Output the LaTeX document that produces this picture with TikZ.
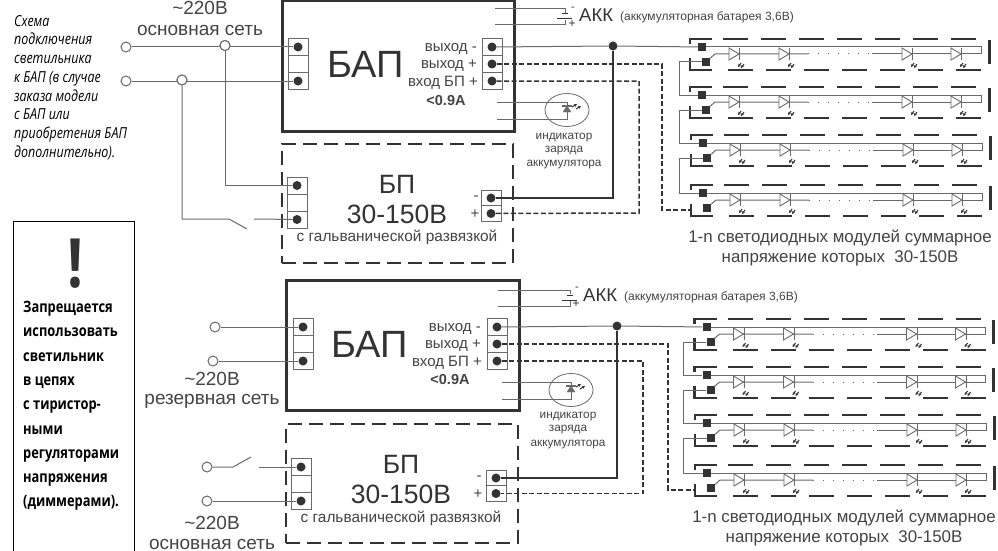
\documentclass[tikz,border=0pt]{standalone}
\usepackage{fontspec}
\usetikzlibrary{arrows.meta,shapes.geometric,calc}
\setmainfont{Liberation Sans}
\newfontfamily\condfont[FakeStretch=0.82]{Open Sans}
\definecolor{ink}{HTML}{333333}
\definecolor{wirec}{HTML}{6A6A6A}
\definecolor{txt}{HTML}{444444}
\newcommand\fsz[1]{\fontsize{#1}{#1}\selectfont}
\tikzset{
  wire/.style={draw=wirec,line width=1pt},
  hotwire/.style={draw=ink,line width=1.5pt},
  dashwire/.style={draw=ink,line width=1.5pt,dash pattern=on 5pt off 2.5pt},
  term/.style={circle,fill=ink,draw=none,minimum size=9pt,inner sep=0pt},
  cellbox/.style={rectangle,draw=wirec,line width=.8pt,minimum width=20pt,inner sep=0pt,fill=white},
  openend/.style={circle,draw=wirec,fill=white,line width=1pt,minimum size=10pt,inner sep=0pt},
  junct/.style={circle,fill=ink,minimum size=9pt,inner sep=0pt},
  mainbox/.style={rectangle,draw=ink,line width=3pt,inner sep=0pt},
  psbox/.style={rectangle,draw=ink,line width=1.5pt,dash pattern=on 14pt off 7pt,inner sep=0pt},
  lab/.style={text=txt,inner sep=0pt,align=center},
  sqpad/.style={rectangle,fill=ink,minimum size=8pt,inner sep=0pt},
  heavy/.style={draw=ink,line width=2.5pt},
  bar/.style={draw=ink,line width=3pt},
  ledbody/.style={draw=wirec,fill=white,line width=.9pt,line join=miter},
  ledglow/.style={draw=ink,line width=1pt,-{Stealth[length=3pt,width=3pt]}},
}
% one module row: #1 name, (#2,#3) position of its first pad
\newcommand\modrow[3]{%
  \begin{scope}[shift={(#2,#3)}]
    \draw[heavy] (-12,-3) -- (-12,-8) -- (10,-8);
    \draw[heavy] (-12,11) -- (-12,23) -- (10,23);
    \foreach \i in {0,...,6}{
      \draw[heavy] ({21+38*\i},-8) -- ++(25,0);
      \draw[heavy] ({26+38*\i},23) -- ++(25,0);
    }
    \draw[bar] (287,-7) -- (287,17);
    \node[sqpad] (#1a) at (0,0) {};
    \node[sqpad] (#1b) at (4,15) {};
    \coordinate (#1e) at (279,0);
    \coordinate (#1f) at (279,7);
    \coordinate (#1g) at (13,7);
    \coordinate (#1h) at (106,7);
    \coordinate (#1i) at (170,7);
    \draw[wire] (#1a) -- (#1e) -- (#1f) -- (#1i);
    \draw[wire] (#1b) -- (#1g) -- (#1h);
    \draw[wire,line width=1pt,dash pattern=on 1pt off 9pt] (#1h) -- (#1i);
    \foreach \lx in {33,83,206,255}{
      \begin{scope}[shift={(\lx,7)}]
        \draw[ledbody] (-6,-6) -- (4,0) -- (-6,6) -- cycle;
        \draw[wirec,line width=1pt] (4.5,-6) -- (4.5,6);
        \draw[ledglow] (6,9) -- (3,13);
        \draw[ledglow] (9,10) -- (6,14);
      \end{scope}
    }
  \end{scope}}
% charge indicator: #1 name, (#2,#3) lamp position, #4 wire start x
\newcommand\lamp[4]{%
  \node[ellipse,draw=wirec,line width=.8pt,minimum width=44pt,minimum height=33pt,inner sep=0pt] (#1) at (#2,#3) {};
  \coordinate (#1s) at (#4,#3-8);
  \coordinate (#1t) at (#4,#3+9);
  \draw[wire] (#1s) -- ($(#1s)+(#2-#4,0)$) -- ++(0,6);
  \draw[wire] (#1t) -- ($(#1t)+(#2-#4,0)$) -- ++(0,-7);
  \draw[fill=wirec,draw=wirec] (#2-4,#3+2) -- (#2+4,#3+2) -- (#2,#3-4) -- cycle;
  \draw[wirec,line width=1.1pt] (#2-5,#3-4) -- (#2+5,#3-4);
  \draw[ledglow] (#2+5,#3-3) -- (#2+10,#3-6);
  \draw[ledglow] (#2+9,#3-1) -- (#2+14,#3-4);}
% battery: #1 name, (#2,#3) top wire start, #4 wire length
\newcommand\batt[4]{%
  \coordinate (#1s) at (#2,#3);
  \coordinate (#1t) at (#2,#3+16);
  \draw[wire] (#1s) -- ++(#4,0) -- ++(0,4);
  \draw[wire] (#1t) -- ++(#4,0) -- ++(0,-5);
  \draw[ink,line width=1pt] (#2+#4-3,#3+5) -- ++(6,0);
  \draw[ink,line width=1pt] (#2+#4-8,#3+10) -- ++(15,0);}
% terminal strip of three cells, dots top and bottom (and optional middle)
\newcommand\strip[4]{%
  \node[cellbox,minimum height=17pt] (#1u) at (#2,#3) {};
  \node[cellbox,minimum height=17pt] (#1v) at (#2,#3+17) {};
  \node[cellbox,minimum height=17pt] (#1w) at (#2,#3+34) {};
  \node[term] (#1x) at (#2,#3) {};
  #4
  \node[term] (#1z) at (#2,#3+34) {};}
\begin{document}
\begin{tikzpicture}[x=1pt,y=-1pt]
\useasboundingbox (0,0) rectangle (998,551);
\clip (0,0) rectangle (998,551);
\fill[white] (0,0) rectangle (998,551);

% ---- left notes
\node[anchor=north west,inner sep=0pt,align=left,text=black,
      font=\condfont\itshape\fontsize{15.2}{18.7}\selectfont] (note) at (14,15)
 {Схема\\подключения\\светильника\\к БАП (в случае\\заказа модели\\с БАП или\\приобретения БАП\\дополнительно).};
\draw[black,line width=.9pt] (13.5,552) -- (13.5,221) -- (134.5,221) -- (134.5,552);
\node[inner sep=0pt,text=ink] (excl) at (75,264) {\condfont\bfseries\fontsize{68}{68}\selectfont !};
\node[anchor=north west,inner sep=0pt,align=left,text=black,
      font=\condfont\bfseries\fontsize{15.7}{24.3}\selectfont] (warn) at (23,301)
 {Запрещается\\использовать\\светильник\\в цепях\\с тиристор-\\ными\\регуляторами\\напряжения\\(диммерами).};

% ---- TOP BLOCK
\node[mainbox,minimum width=232pt,minimum height=130pt] (bapA) at (398,66) {};
\node[psbox,minimum width=231pt,minimum height=119pt] (psA) at (397.5,203.5) {};
\strip{Al}{298}{47}{}
\strip{Ar}{492}{47}{\node[term] (Ary) at (492,64) {};}
\node[cellbox,minimum height=17pt] (Apa) at (297,185.5) {};
\node[cellbox,minimum height=17pt] (Apb) at (297,202.5) {};
\node[cellbox,minimum height=17pt] (Apc) at (297,219.5) {};
\node[term] (Apx) at (297,185.5) {};
\node[term] (Apz) at (297,219.5) {};
\node[cellbox,minimum height=16pt] (Aqa) at (491,198) {};
\node[cellbox,minimum height=16pt] (Aqb) at (491,213.5) {};
\node[term] (Aqx) at (491,198) {};
\node[term] (Aqz) at (491,213.5) {};
\node[lab,text=ink,font=\fsz{38}] (At) at (366,64) {БАП};
\node[lab,anchor=east,font=\fsz{15}] (Ao1) at (477,49) {выход -};
\node[lab,anchor=east,font=\fsz{15}] (Ao2) at (477,66) {выход +};
\node[lab,anchor=east,font=\fsz{15}] (Ao3) at (478,83) {вход БП +};
\node[lab,font=\bfseries\fsz{14.5}] (Ao4) at (446,101) {<0.9A};
\node[lab,text=ink,font=\fsz{26.5}] (Ap1) at (397,184) {БП};
\node[lab,text=ink,font=\fsz{26.5}] (Ap2) at (397,214) {30-150В};
\node[lab,font=\fsz{15.4}] (Ap3) at (397,237) {с гальванической развязкой};
\node[lab,font=\fsz{15}] (Aqm) at (476,198) {-};
\node[lab,font=\fsz{15}] (Aqp) at (475,214) {+};
\node[lab,font=\fsz{19}] (Av1) at (200,8) {\textasciitilde 220В};
\node[lab,font=\fsz{19}] (Av2) at (200,30) {основная сеть};
% mains
\node[openend] (Ao) at (126,47) {};
\node[openend] (Ap) at (126,81) {};
\node[openend] (Aj1) at (225,45.5) {};
\node[openend] (Aj2) at (182,80) {};
\draw[wire] (Ao) -- (Alx);
\draw[wire] (Ap) -- (Alz);
\node[openend] at (Aj1) {};
\node[openend] at (Aj2) {};
\coordinate (Asw1) at (229,219);
\coordinate (Asw2) at (247,229);
\coordinate (Asw3) at (254,219);
\draw[wire] (Aj1) |- (Apx);
\draw[wire] (Aj2) |- (Asw1) -- (Asw2);
\draw[wire] (Asw3) -- (Apz);
% battery, lamp
\batt{Ab}{495}{9}{70}
\node[lab,text=ink,font=\fsz{11}] at (573,9) {-};
\node[lab,text=ink,font=\fsz{12}] at (572,24) {+};
\node[lab,anchor=west,text=ink,font=\fsz{18.5}] (Aak) at (579,15) {АКК};
\node[lab,anchor=west,font=\fsz{12}] (Aak2) at (620,17) {(аккумуляторная батарея 3,6В)};
\lamp{Al0}{567}{110}{497}
\node[lab,font=\fsz{11.8}] (Ai1) at (564,138) {индикатор};
\node[lab,font=\fsz{11.8}] (Ai2) at (564,151) {заряда};
\node[lab,font=\fsz{11.8}] (Ai3) at (564,165) {аккумулятора};
% modules
\modrow{ta}{702}{47}
\modrow{tb}{702}{95}
\modrow{tc}{703}{143}
\modrow{td}{703}{193}
\node[junct] (Aj) at (613,46) {};
\draw[wire] (Arx) -- (Aj) -- (taa);
\draw[hotwire] (Aj) |- (Aqx);
\coordinate (Ak1) at (662,210);
\coordinate (Ak2) at (639,213);
\draw[dashwire] (Ary) -| (Ak1) -- (690,210);
\draw[dashwire] (Arz) -| (Ak2) -- (Aqz);
\draw[wire] (tab) -- ++(-27,0) |- (tba);
\draw[wire] (tbb) -- ++(-27,0) |- (tca);
\draw[wire] (tcb) -- ++(-28,0) |- (tda);
\node[lab,font=\fsz{16.9}] (Am1) at (840,238) {1-n светодиодных модулей суммарное};
\node[lab,font=\fsz{16.9}] (Am2) at (840,258) {напряжение которых\ \ 30-150В};

% ---- BOTTOM BLOCK
\node[mainbox,minimum width=233pt,minimum height=130pt] (bapB) at (402.5,345) {};
\node[psbox,minimum width=232pt,minimum height=119pt] (psB) at (402,483.5) {};
\strip{Bl}{303}{327}{}
\strip{Br}{497}{327}{\node[term] (Bry) at (497,344) {};}
\node[cellbox,minimum height=17pt] (Bpa) at (301,467) {};
\node[cellbox,minimum height=17pt] (Bpb) at (301,484) {};
\node[cellbox,minimum height=17pt] (Bpc) at (301,501) {};
\node[term] (Bpx) at (301,467) {};
\node[term] (Bpz) at (301,501) {};
\node[cellbox,minimum height=16pt] (Bqa) at (496,478) {};
\node[cellbox,minimum height=16pt] (Bqb) at (496,493.5) {};
\node[term] (Bqx) at (496,478) {};
\node[term] (Bqz) at (496,493.5) {};
\node[lab,text=ink,font=\fsz{38}] (Bt) at (370,344) {БАП};
\node[lab,anchor=east,font=\fsz{15}] (Bo1) at (481,329) {выход -};
\node[lab,anchor=east,font=\fsz{15}] (Bo2) at (481,346) {выход +};
\node[lab,anchor=east,font=\fsz{15}] (Bo3) at (482,363) {вход БП +};
\node[lab,font=\bfseries\fsz{14.5}] (Bo4) at (450,380) {<0.9A};
\node[lab,text=ink,font=\fsz{26.5}] (Bp1) at (401,464) {БП};
\node[lab,text=ink,font=\fsz{26.5}] (Bp2) at (401,494) {30-150В};
\node[lab,font=\fsz{15.4}] (Bp3) at (401,518) {с гальванической развязкой};
\node[lab,font=\fsz{15}] (Bqm) at (479,478) {-};
\node[lab,font=\fsz{15}] (Bqp) at (478,494) {+};
\node[lab,font=\fsz{19}] (Bv1) at (212,379) {\textasciitilde 220В};
\node[lab,font=\fsz{19}] (Bv2) at (212,401) {резервная сеть};
\node[lab,font=\fsz{19}] (Bv3) at (212,523) {\textasciitilde 220В};
\node[lab,font=\fsz{19}] (Bv4) at (212,544) {основная сеть};
\node[openend] (Bo) at (215,327) {};
\node[openend] (Bp) at (213,361) {};
\node[openend] (Bs) at (207,467) {};
\node[openend] (Bn) at (207,501) {};
\draw[wire] (Bo) -- (Blx);
\draw[wire] (Bp) -- (Blz);
\draw[wire] (Bn) -- (Bpz);
\coordinate (Bsw1) at (233,467);
\coordinate (Bsw2) at (251,457);
\coordinate (Bsw3) at (259,467);
\draw[wire] (Bs) -- (Bsw1) -- (Bsw2);
\draw[wire] (Bsw3) -- (Bpx);
\batt{Bb}{498}{290}{72}
\node[lab,text=ink,font=\fsz{11}] at (577,289) {-};
\node[lab,text=ink,font=\fsz{12}] at (576,304) {+};
\node[lab,anchor=west,text=ink,font=\fsz{18.5}] (Bak) at (583,295) {АКК};
\node[lab,anchor=west,font=\fsz{12}] (Bak2) at (624,297) {(аккумуляторная батарея 3,6В)};
\lamp{Bl0}{571}{390}{502}
\node[lab,font=\fsz{11.8}] (Bi1) at (568,417) {индикатор};
\node[lab,font=\fsz{11.8}] (Bi2) at (568,430) {заряда};
\node[lab,font=\fsz{11.8}] (Bi3) at (568,445) {аккумулятора};
\modrow{ba}{706.5}{327}
\modrow{bb}{706.5}{375}
\modrow{bc}{707}{423}
\modrow{bd}{707}{473}
\node[junct] (Bj) at (617,326) {};
\draw[wire] (Brx) -- (Bj) -- (baa);
\draw[hotwire] (Bj) |- (Bqx);
\coordinate (Bk1) at (668,490);
\coordinate (Bk2) at (643,493.5);
\draw[dashwire] (Bry) -| (Bk1) -- (694,490);
\draw[dashwire] (Brz) -| (Bk2) -- (Bqz);
\draw[wire] (bab) -- ++(-27,0) |- (bba);
\draw[wire] (bbb) -- ++(-27,0) |- (bca);
\draw[wire] (bcb) -- ++(-28,0) |- (bda);
\node[lab,font=\fsz{16.9}] (Bm1) at (844,518) {1-n светодиодных модулей суммарное};
\node[lab,font=\fsz{16.9}] (Bm2) at (844,538) {напряжение которых\ \ 30-150В};
\end{tikzpicture}
\end{document}
